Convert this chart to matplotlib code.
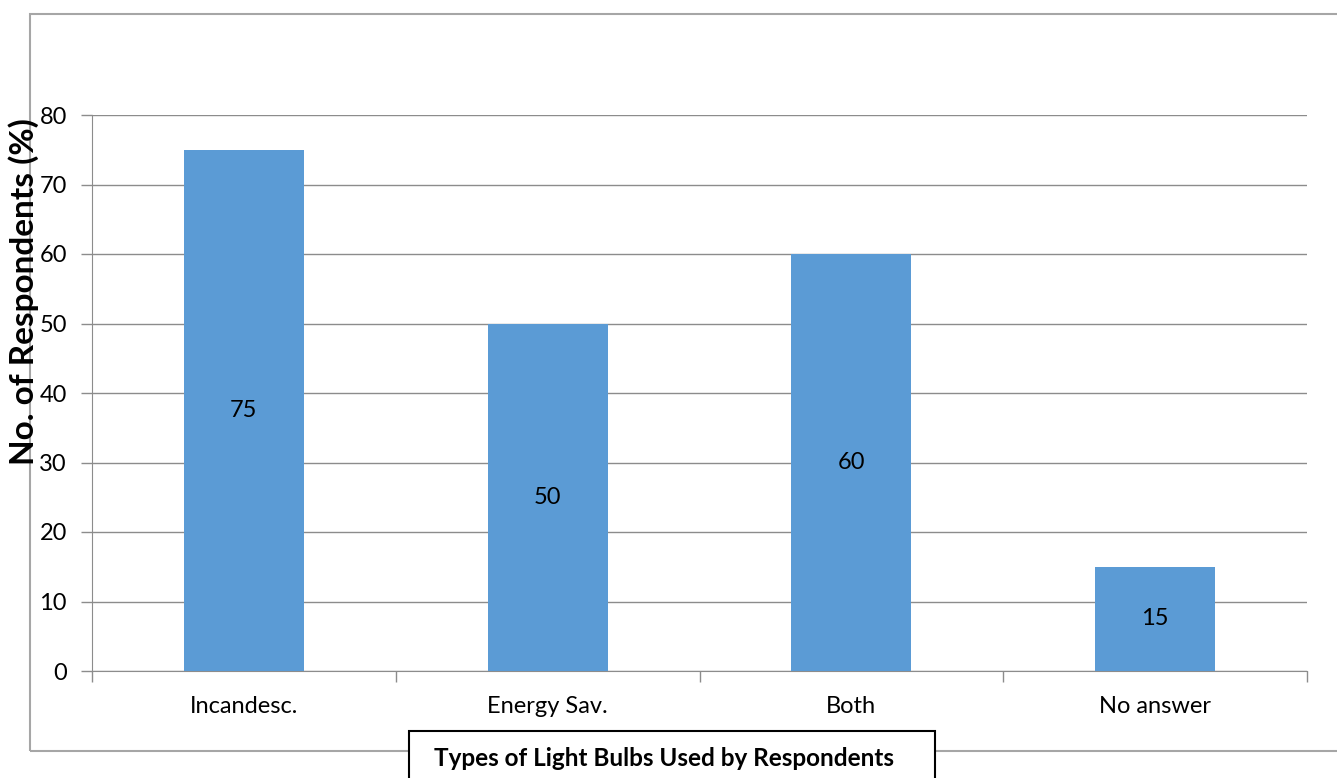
import matplotlib.pyplot as plt
from matplotlib.patches import Rectangle

categories = ['Incandesc.', 'Energy Sav.', 'Both', 'No answer']
values = [75, 50, 60, 15]
y_ticks = [0, 10, 20, 30, 40, 50, 60, 70, 80]

plt.rcParams['font.family'] = ['Lato', 'DejaVu Sans']

W, H = 1337, 778
fig = plt.figure(figsize=(W / 100, H / 100), dpi=100)

# axes box in pixel coords: x 92..1307, y 115..671
ax = fig.add_axes([92 / W, 1 - 671 / H, (1307 - 92) / W, (671 - 115) / H])

x = range(len(categories))
bars = ax.bar(x, values, width=0.395, color='#5B9BD5', zorder=3)
for i, v in enumerate(values):
    ax.text(i, v / 2, str(v), ha='center', va='center', fontsize=17, zorder=4)

ax.set_xlim(-0.5, len(categories) - 0.5)
ax.set_ylim(0, 80)
ax.set_yticks(y_ticks)
ax.yaxis.grid(True, color='#8c8c8c', linewidth=1, zorder=0)
ax.set_xticks(x)
ax.set_xticklabels(categories, fontsize=17)
ax.tick_params(axis='x', length=0, pad=18)
ax.tick_params(axis='y', length=8, width=1, color='#8c8c8c', labelsize=17, pad=10)
# category boundary ticks
ax.set_xticks([i - 0.5 for i in range(len(categories) + 1)], minor=True)
ax.tick_params(axis='x', which='minor', length=8, width=1, color='#8c8c8c')

for s in ['top', 'right']:
    ax.spines[s].set_visible(False)
ax.spines['left'].set_color('#8c8c8c')
ax.spines['bottom'].set_color('#8c8c8c')

# outer chart border
fig.patches.append(Rectangle((30 / W, 1 - 751 / H), (1340 - 30) / W, (751 - 14) / H,
                             transform=fig.transFigure, fill=False,
                             edgecolor='#a6a6a6', linewidth=1.5, zorder=0))

fig.text(24 / W, 1 - 292 / H, 'No. of Respondents (%)', rotation=90,
         ha='center', va='center', fontsize=24, fontweight='bold', zorder=1)

fig.patches.append(Rectangle((409 / W, -0.01), (935 - 409) / W, 1 - 731 / H + 0.01,
                             transform=fig.transFigure, facecolor='white',
                             edgecolor='black', linewidth=1.5, zorder=2))
fig.text(664 / W, 1 - 758 / H, 'Types of Light Bulbs Used by Respondents',
         ha='center', va='center', fontsize=17.5, fontweight='bold', zorder=3)

fig.savefig('out.png', dpi=100)
